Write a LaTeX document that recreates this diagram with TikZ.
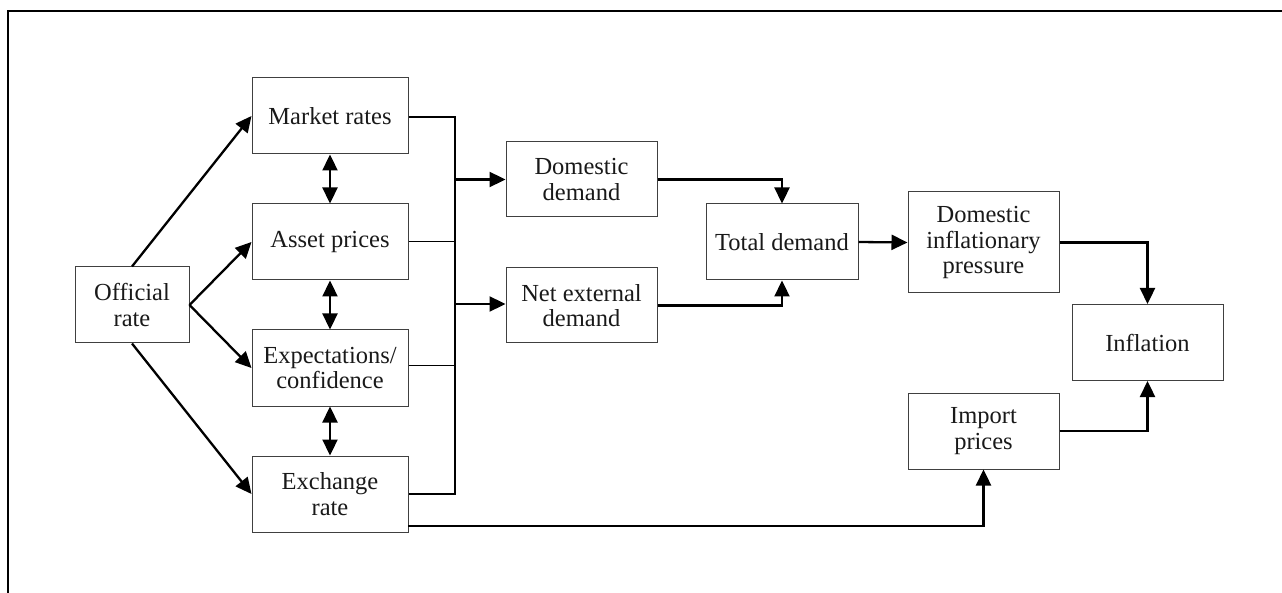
\documentclass[tikz,border=0pt]{standalone}
\usepackage{fontspec}
\setmainfont{Liberation Serif}
\usetikzlibrary{arrows.meta}
\begin{document}
\begin{tikzpicture}[x=1pt,y=-1pt,
  box/.style={draw=black!75,line width=1pt,align=center,inner sep=0pt,
    font=\fontsize{24.5}{25.5}\selectfont,text=black!90},
  arr/.style={line width=2.3pt,-{Triangle[length=16pt,width=15pt]}},
  dbl/.style={line width=2.3pt,{Triangle[length=16pt,width=15pt]}-{Triangle[length=16pt,width=15pt]}},
  thick2/.style={line width=2pt},
  thin1/.style={line width=1pt},
  frame/.style={line width=1.3pt}]
\useasboundingbox (0,0) rectangle (1282,593);
% partial frame
\coordinate (fa) at (8,593);
\coordinate (fb) at (8,11);
\coordinate (fc) at (1282,11);
\draw[frame] (fa) -- (fb) -- (fc);
% boxes
\node[box,minimum width=114pt,minimum height=76pt] (off) at (132,305) {Official\\rate};
\node[box,minimum width=156pt,minimum height=76pt] (mkt) at (330,116) {Market rates};
\node[box,minimum width=156pt,minimum height=76pt] (ast) at (330,242) {Asset prices};
\node[box,minimum width=156pt,minimum height=76pt] (exp) at (330,368) {Expectations/\\confidence};
\node[box,minimum width=156pt,minimum height=76pt] (exr) at (330,494) {Exchange\\rate};
\node[box,minimum width=151pt,minimum height=75pt] (dd) at (581.5,179.5) {Domestic\\demand};
\node[box,minimum width=151pt,minimum height=75pt] (ned) at (581.5,305.5) {Net external\\demand};
\node[box,minimum width=152pt,minimum height=76pt] (td) at (782,242) {Total demand};
\node[box,minimum width=151pt,minimum height=101pt] (dip) at (983.5,242.5) {Domestic\\inflationary\\pressure};
\node[box,minimum width=151pt,minimum height=76pt] (inf) at (1147.5,342.5) {Inflation};
\node[box,minimum width=151pt,minimum height=76pt] (imp) at (983.5,431) {Import\\prices};
% official rate arrows
\draw[arr] (off.north) -- (mkt.west);
\draw[arr] (off.east) -- (ast.west);
\draw[arr] (off.east) -- (exp.west);
\draw[arr] (off.south) -- (exr.west);
% double arrows
\draw[dbl] (mkt.south) -- (ast.north);
\draw[dbl] (ast.south) -- (exp.north);
\draw[dbl] (exp.south) -- (exr.north);
% bus
\coordinate (b1) at (455,117);
\coordinate (b2) at (455,242);
\coordinate (b3) at (455,366);
\coordinate (b4) at (455,494);
\coordinate (bd) at (455,179.5);
\coordinate (bn) at (455,304);
\draw[thick2] (mkt.east |- b1) -- (b1) -- (b4) -- (exr.east |- b4);
\draw[thin1] (ast.east) -- (b2);
\draw[thin1] (exp.east |- b3) -- (b3);
\draw[arr] (bd) -- (dd.west);
\draw[arr] (bn) -- (ned.west |- bn);
% demand to total
\draw[arr] (dd.east) -| (td.north);
\draw[arr] (ned.east) -| (td.south);
\draw[arr] (td.east) -- (dip.west);
% to inflation
\draw[arr] (dip.east) -| (inf.north);
\draw[arr] (imp.east) -| (inf.south);
% exchange rate to import prices
\coordinate (ex2) at (408,526);
\draw[arr] (ex2) -| (imp.south);
\end{tikzpicture}
\end{document}
